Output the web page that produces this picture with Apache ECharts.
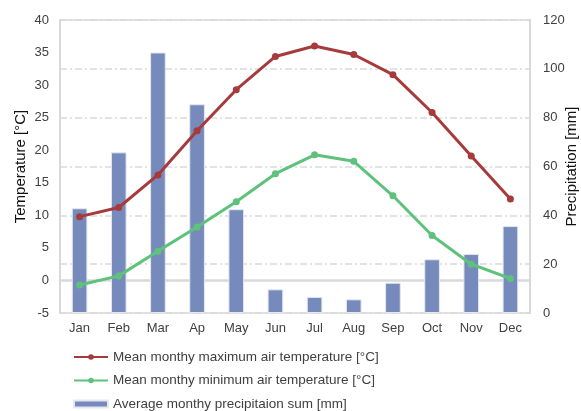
<!DOCTYPE html>
<html>
<head>
<meta charset="utf-8">
<script src="https://cdn.jsdelivr.net/npm/echarts@6/dist/echarts.min.js"></script>
<style>
  html, body { margin: 0; padding: 0; background: #fff; }
  #chart { width: 581px; height: 411px; }
</style>
</head>
<body>
<div id="chart"></div>
<script>
// months and monthly values
const months = ['Jan', 'Feb', 'Mar', 'Ap', 'May', 'Jun', 'Jul', 'Aug', 'Sep', 'Oct', 'Nov', 'Dec'];
const maxTemp = [9.8, 11.2, 16.2, 23.0, 29.3, 34.4, 36.0, 34.7, 31.6, 25.8, 19.1, 12.5];
const minTemp = [-0.7, 0.7, 4.5, 8.2, 12.1, 16.4, 19.3, 18.3, 13.0, 6.9, 2.5, 0.3];
const precip  = [42.9, 65.8, 106.7, 85.5, 42.5, 9.7, 6.6, 5.6, 12.4, 22.0, 24.2, 35.6];

const font = 'Liberation Sans, Arial, sans-serif';
const labelStyle = { color: '#404040', fontSize: 13, fontFamily: font };

const chart = echarts.init(document.getElementById('chart'), null, { renderer: 'canvas' });
chart.setOption({
  animation: false,
  backgroundColor: '#fff',
  grid: {
    left: 60, right: 51, top: 20, bottom: 98, containLabel: false, outerBoundsMode: 'none',
    show: true, borderColor: '#d9d9d9', borderWidth: 1.5
  },
  legend: {
    orient: 'vertical', left: 68, top: 345, height: 80,
    itemWidth: 34, itemHeight: 7, itemGap: 9.5,
    textStyle: { color: '#404040', fontSize: 13.5, fontFamily: font },
    data: [
      { name: 'Mean monthy maximum air temperature [°C]' },
      { name: 'Mean monthy minimum air temperature [°C]' },
      { name: 'Average monthy precipitaion sum [mm]', icon: 'rect' }
    ]
  },
  xAxis: {
    type: 'category', data: months,
    axisLine: { lineStyle: { color: '#d9d9d9', width: 2.5 } },
    axisTick: { show: false },
    axisLabel: Object.assign({ margin: 9 }, labelStyle)
  },
  yAxis: [
    {
      type: 'value', min: -5, max: 40, interval: 5,
      name: 'Temperature [°C]', nameLocation: 'middle', nameGap: 32, nameMoveOverlap: false,
      nameTextStyle: { color: '#111', fontSize: 15, fontFamily: font },
      axisLine: { show: true, lineStyle: { color: '#d9d9d9', width: 2 } },
      axisTick: { show: false },
      splitLine: { show: false },
      axisLabel: Object.assign({ margin: 11 }, labelStyle)
    },
    {
      type: 'value', min: 0, max: 120, interval: 20,
      name: 'Precipitation [mm]', nameLocation: 'middle', nameGap: 34, nameMoveOverlap: false,
      nameTextStyle: { color: '#111', fontSize: 15, fontFamily: font },
      axisLine: { show: true, lineStyle: { color: '#d9d9d9', width: 2 } },
      axisTick: { show: false },
      splitLine: { show: true, lineStyle: { color: '#dadada', width: 1.5, type: [7, 3, 2, 3] } },
      axisLabel: Object.assign({ margin: 13 }, labelStyle)
    }
  ],
  series: [
    {
      name: 'Average monthy precipitaion sum [mm]', type: 'bar', yAxisIndex: 1,
      data: precip, barWidth: '40%', z: 1,
      itemStyle: { color: '#768bbb', borderColor: '#e3e8f2', borderWidth: 1 }
    },
    {
      name: 'Mean monthy maximum air temperature [°C]', type: 'line', yAxisIndex: 0,
      data: maxTemp, symbol: 'circle', symbolSize: 7, z: 3,
      lineStyle: { color: '#a73a3b', width: 3 },
      itemStyle: { color: '#a73a3b' }
    },
    {
      name: 'Mean monthy minimum air temperature [°C]', type: 'line', yAxisIndex: 0,
      data: minTemp, symbol: 'circle', symbolSize: 7, z: 3,
      lineStyle: { color: '#5ec27c', width: 3 },
      itemStyle: { color: '#5ec27c' }
    }
  ]
});
</script>
</body>
</html>
